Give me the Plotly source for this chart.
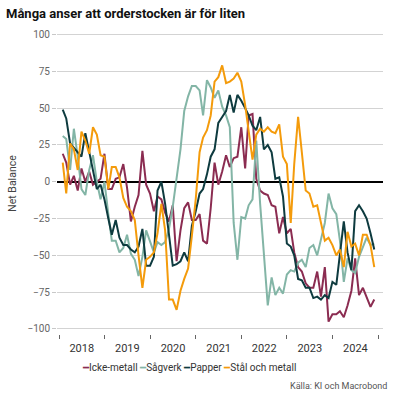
import plotly.graph_objects as go
import pandas as pd

# Monthly data, Jan 2018 - Nov 2024 (83 months)
dates = pd.date_range("2018-01-31", periods=83, freq="ME")

icke_metall = [19, 13, -2, 4, -6, 9, 0, 7, -2, 0,
               2, 19, -5, -5, 2, 3, 12, -4, -27, -17,
               -9, 21, -2, -8, -20, -10, -12, -21, -27, -16,
               -54, -33, -18, -14, -26, -26, -22, -40, -42, -18,
               13, -2, 7, 18, 10, 16, 17, 37, 9, 45,
               46, 2, -6, -8, -9, -16, -17, -35, -24, -35,
               -32, -48, -58, -61, -69, -72, -72, -61, -78, -58,
               -95, -90, -90, -88, -92, -84, -74, -52, -77, -72,
               -78, -85, -80]

sagverk = [31, 29, 8, 36, 17, -5, -9, 8, 18, 0,
           -12, 0, -22, -40, -40, -48, -45, -36, -49, -53,
           -64, -51, -33, -40, -48, -41, -43, -41, -32, -17,
           3, 22, 48, 58, 65, 65, 62, 45, 69, 64,
           57, 62, 51, 45, 37, -28, -53, -24, -25, -16,
           -12, 28, -15, -51, -84, -65, -77, -72, -76, -63,
           -60, -61, -55, -53, -58, -45, -43, -50, -40, -28,
           -8, -18, -22, -40, -68, -52, -60, -62, -51, -44,
           -38, -43, -42]

papper = [49, 43, 26, 23, 20, 17, 33, 20, 6, -5,
          -2, -12, -25, -36, -26, -38, -43, -43, -46, -48,
          -44, -32, -57, -57, -51, -6, 0, -15, -36, -57,
          -56, -54, -48, -54, -30, -20, -8, -5, 5, 17,
          22, 40, 44, 48, 59, 47, 59, 55, 50, 45,
          38, 35, 44, 22, 25, 20, 2, 3, -10, -42,
          -44, -50, -66, -67, -72, -72, -79, -78, -80, -77,
          -79, -68, -70, -48, -27, -48, -60, -20, -16, -20,
          -25, -35, -46]

stal_och_metall = [13, -8, 26, 22, 8, 34, 28, 19, 37, 32,
                   18, 17, -5, 10, 10, 3, -11, -17, -20, -26,
                   -50, -72, -53, -51, -48, -35, -15, -33, -80, -80,
                   -87, -74, -66, -59, -37, -12, 20, 30, 35, 45,
                   68, 71, 79, 67, 68, 70, 74, 68, 52, 35,
                   15, 32, 36, 34, 37, 34, 33, 39, 17, 12,
                   -28, 12, 44, 20, -6, -8, -17, -16, -27, -40,
                   -38, -43, -50, -46, -58, -34, -44, -42, -50, -36,
                   -36, -43, -58]

series_names = ["Icke-metall", "Sågverk", "Papper", "Stål och metall"]
series_values = [icke_metall, sagverk, papper, stal_och_metall]
series_colors = ["#8b2c51", "#83b5a6", "#0e3b3f", "#f49b0b"]

y_ticks = [-100, -75, -50, -25, 0, 25, 50, 75, 100]

FONT = "Roboto"

fig = go.Figure()
for name, vals, col in zip(series_names, series_values, series_colors):
    fig.add_trace(go.Scatter(x=dates, y=vals, name=name, mode="lines",
                             line=dict(color=col, width=2), showlegend=False))

legend_text = " ".join(
    f"<span style='color:{c}'>━</span>{n}" for n, c in zip(series_names, series_colors)
)

fig.update_layout(
    width=397, height=397,
    margin=dict(l=44, r=14, t=33, b=63),
    paper_bgcolor="white", plot_bgcolor="white",
    font=dict(family=FONT, size=10, color="#444"),
    title=dict(text="<b>Många anser att orderstocken är för liten</b>",
               x=6 / 397, xanchor="left", xref="container",
               y=1 - 13 / 397, yanchor="middle", yref="container",
               font=dict(family=FONT, size=13, color="#111")),
    annotations=[
        dict(text=legend_text, xref="paper", yref="paper",
             x=0.406, y=-33 / 301, xanchor="center", yanchor="middle",
             showarrow=False, font=dict(family=FONT, size=10, color="#333")),
        dict(text="Källa: KI och Macrobond", xref="paper", yref="paper",
             x=(389 - 44) / 339, y=-52 / 301, xanchor="right", yanchor="middle",
             showarrow=False, font=dict(family=FONT, size=9, color="#555")),
    ],
)

fig.update_xaxes(
    type="date", range=["2017-12-16", "2025-02-08"],
    tickmode="linear", tick0="2018-01-01", dtick="M12",
    ticklabelmode="period", tickformat="%Y",
    ticks="outside", ticklen=4, tickcolor="#666",
    showgrid=False, showline=False, zeroline=False,
    tickfont=dict(family=FONT, size=11, color="#333"),
)

fig.update_yaxes(
    range=[-103.4, 101], tickmode="array", tickvals=y_ticks,
    showgrid=True, gridcolor="#d3d3d3", gridwidth=1,
    ticks="outside", ticklen=4, tickcolor="#c8c8c8",
    zeroline=True, zerolinecolor="#000", zerolinewidth=2,
    showline=False,
    tickfont=dict(family=FONT, size=10, color="#666"),
    title=dict(text="Net Balance", standoff=8,
               font=dict(family=FONT, size=10.5, color="#444")),
)

fig.write_html("out.html", config={"displayModeBar": False},
               post_script="document.body.style.margin='0';")
